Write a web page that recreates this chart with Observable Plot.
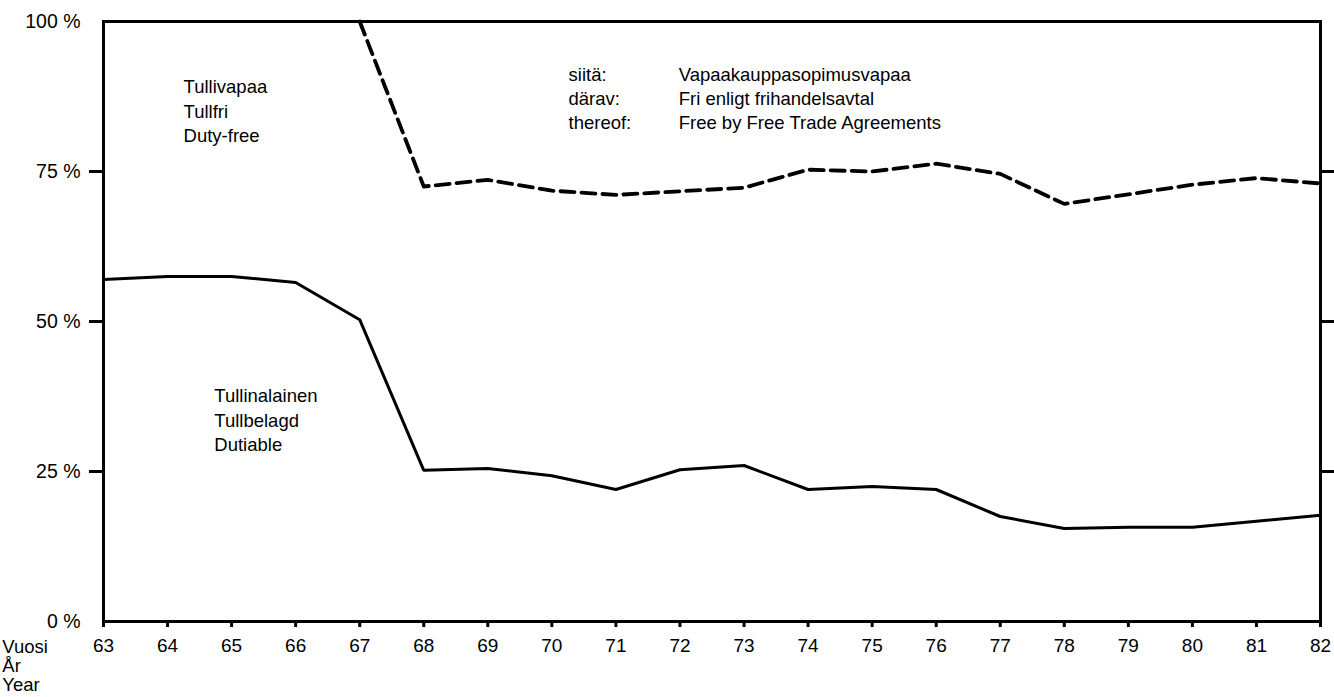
<!DOCTYPE html>
<html>
<head>
<meta charset="utf-8">
<script src="https://cdn.jsdelivr.net/npm/d3@7"></script>
<script src="https://cdn.jsdelivr.net/npm/@observablehq/plot@0.6"></script>
<style>
  html, body { margin: 0; padding: 0; background: #fff; }
  #chart svg { display: block; }
</style>
</head>
<body>
<div id="chart"></div>
<script>
// Years (19xx)
const years = [63, 64, 65, 66, 67, 68, 69, 70, 71, 72, 73, 74, 75, 76, 77, 78, 79, 80, 81, 82];
// Dutiable share of imports, %
const dutiable = [57.0, 57.5, 57.5, 56.5, 50.3, 25.2, 25.5, 24.3, 22.0, 25.3, 26.0, 22.0, 22.5, 22.0, 17.5, 15.5, 15.7, 15.7, 16.7, 17.7];
// Upper limit of "free by free trade agreements" band (dutiable + FTA-free), %
const ftaYears = [67, 68, 69, 70, 71, 72, 73, 74, 75, 76, 77, 78, 79, 80, 81, 82];
const ftaUpper = [100, 72.5, 73.6, 71.8, 71.1, 71.7, 72.3, 75.3, 75.0, 76.3, 74.6, 69.6, 71.2, 72.8, 73.9, 73.0];
// Tick labels
const yOuterTicks = [0, 100];
const yInnerTicks = [25, 50, 75];
// Annotation texts
const dutyFreeLabel = ["Tullivapaa", "Tullfri", "Duty-free"];
const dutiableLabel = ["Tullinalainen", "Tullbelagd", "Dutiable"];
const legendKeys = ["siitä:", "därav:", "thereof:"];
const legendTexts = ["Vapaakauppasopimusvapaa", "Fri enligt frihandelsavtal", "Free by Free Trade Agreements"];
const yearLabel = ["Vuosi", "År", "Year"];

const solidData = years.map((y, i) => ({year: y, value: dutiable[i]}));
const dashData = ftaYears.map((y, i) => ({year: y, value: ftaUpper[i]}));

const font = "'Liberation Sans', Arial, Helvetica, sans-serif";
const fs = 18.5;
const lh = 24.5 / fs;

const chart = Plot.plot({
  width: 1334,
  height: 697,
  marginTop: 21,
  marginBottom: 76,
  marginLeft: 103,
  marginRight: 14,
  style: {fontFamily: font, fontSize: fs + "px", color: "black", background: "white", overflow: "visible"},
  x: {domain: [63, 82], label: null},
  y: {domain: [0, 100], label: null},
  marks: [
    Plot.frame({stroke: "black", strokeWidth: 3}),
    // left ticks with labels
    Plot.axisY({anchor: "left", label: null, ticks: yInnerTicks, tickSize: 14, tickPadding: 9, strokeWidth: 3, tickFormat: d => d + " %", fontSize: 19.5}),
    Plot.axisY({anchor: "left", label: null, ticks: yOuterTicks, tickSize: 0, tickPadding: 23, tickFormat: d => d + " %", fontSize: 19.5}),
    // right ticks, no labels
    Plot.axisY({anchor: "right", label: null, ticks: yInnerTicks, tickSize: 14, strokeWidth: 3, tickFormat: () => ""}),
    // x axis
    Plot.axisX({anchor: "bottom", label: null, ticks: years, tickSize: 6, tickPadding: 11, strokeWidth: 3, tickFormat: d => String(d), fontSize: 19}),
    Plot.line(solidData, {x: "year", y: "value", stroke: "black", strokeWidth: 3, strokeLinejoin: "miter"}),
    Plot.line(dashData, {x: "year", y: "value", stroke: "black", strokeWidth: 3.8, strokeDasharray: "14,7"}),
    Plot.text([dutyFreeLabel.join("\n")], {x: 64.25, y: 85.3, text: d => d, textAnchor: "start", lineAnchor: "middle", lineHeight: lh, fontSize: fs, fill: "black"}),
    Plot.text([dutiableLabel.join("\n")], {x: 64.73, y: 33.8, text: d => d, textAnchor: "start", lineAnchor: "middle", lineHeight: lh, fontSize: fs, fill: "black"}),
    Plot.text([legendKeys.join("\n")], {x: 70.26, y: 87.3, text: d => d, textAnchor: "start", lineAnchor: "middle", lineHeight: lh * 0.98, fontSize: fs, fill: "black"}),
    Plot.text([legendTexts.join("\n")], {x: 71.98, y: 87.3, text: d => d, textAnchor: "start", lineAnchor: "middle", lineHeight: lh * 0.98, fontSize: fs, fill: "black"}),
    Plot.text([yearLabel.join("\n")], {x: 61.42, y: -7.4, text: d => d, textAnchor: "start", lineAnchor: "middle", lineHeight: 19 / 18.5, fontSize: 18.5, fill: "black"})
  ]
});
document.getElementById("chart").append(chart);
</script>
</body>
</html>
